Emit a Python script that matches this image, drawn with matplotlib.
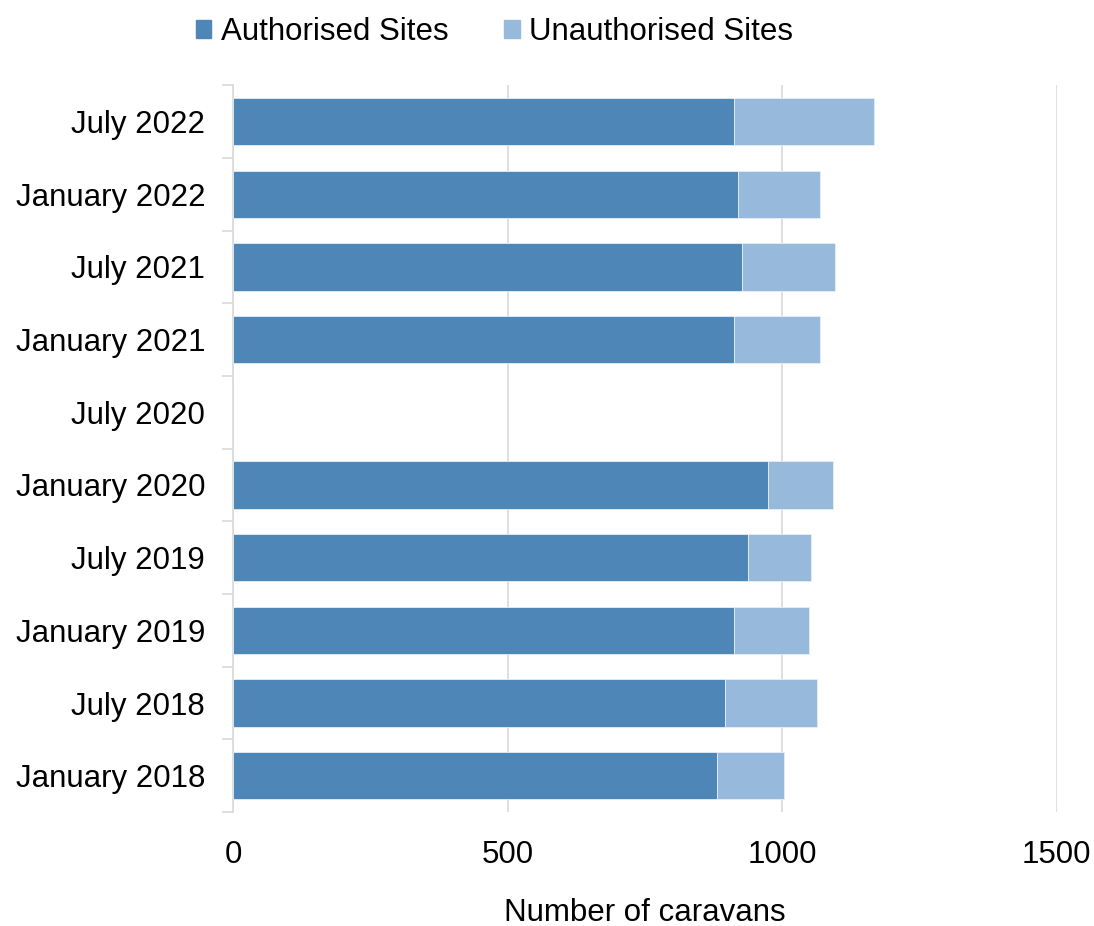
import numpy as np
import matplotlib.pyplot as plt
from matplotlib.patches import Patch

periods = ['January 2018', 'July 2018', 'January 2019', 'July 2019', 'January 2020',
           'July 2020', 'January 2021', 'July 2021', 'January 2022', 'July 2022']
authorised = [881, 895, 913, 938, 974, np.nan, 913, 927, 920, 913]
unauthorised = [122, 169, 136, 115, 119, np.nan, 155, 169, 148, 255]

dark = '#4f86b8'
light = '#97b9dc'

plt.rcParams['font.family'] = ['Liberation Sans', 'DejaVu Sans']

fig = plt.figure(figsize=(10.94, 9.26), dpi=100)
ax = fig.add_axes([0.213, 0.123, 0.753, 0.785])

y = np.arange(len(periods))
ax.barh(y, authorised, height=0.65, color=dark, edgecolor='#e6eef7', linewidth=0.6,
        label='Authorised Sites', zorder=3)
ax.barh(y, unauthorised, left=authorised, height=0.65, color=light, edgecolor='#e6eef7',
        linewidth=0.6, label='Unauthorised Sites', zorder=3)

ax.set_xlim(0, 1500)
ax.set_ylim(-0.5, len(periods) - 0.5)
ax.set_xticks([0, 500, 1000, 1500])
ax.grid(axis='x', color='#d9d9d9', linewidth=1.2, zorder=0)
ax.set_yticks(y)
ax.set_yticklabels(periods)
ax.set_yticks(np.arange(-0.5, len(periods)), minor=True)
ax.tick_params(axis='y', which='major', length=0, pad=20, labelsize=22.5)
ax.tick_params(axis='y', which='minor', length=8, color='#d9d9d9', width=1.2)
ax.tick_params(axis='x', length=0, pad=20, labelsize=22.5)

for side in ['top', 'right', 'bottom']:
    ax.spines[side].set_visible(False)
ax.spines['left'].set_color('#d9d9d9')
ax.spines['left'].set_linewidth(1.2)

ax.set_xlabel('Number of caravans', fontsize=22.5, labelpad=20)

handles = [Patch(color=dark), Patch(color=light)]
fig.legend(handles, ['Authorised Sites', 'Unauthorised Sites'], loc='upper center',
           bbox_to_anchor=(0.452, 1.012), ncol=2, frameon=False, fontsize=22.5,
           handlelength=0.5, handleheight=0.5, handletextpad=0.3, columnspacing=1.8)

fig.savefig('out.png', dpi=100)
